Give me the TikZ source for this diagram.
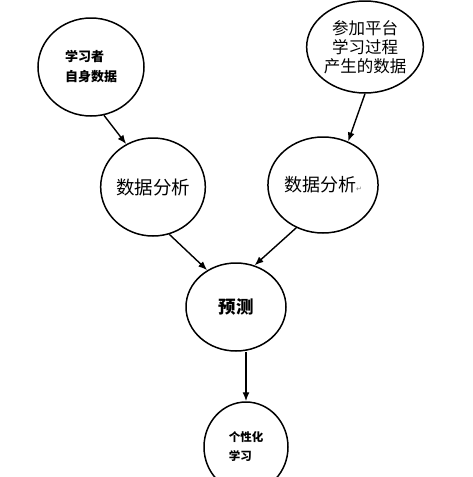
\documentclass[tikz,border=0pt]{standalone}
\usepackage{fontspec}
\newfontfamily\cjk{Noto Sans CJK SC}
\newfontfamily\symfont{DejaVu Sans}
\usetikzlibrary{shapes.geometric,arrows.meta}
\begin{document}
\begin{tikzpicture}[x=1pt,y=-1pt,
  bubble/.style={ellipse,draw,line width=1.5pt,inner sep=0pt},
  flow/.style={-{Latex[length=9pt,width=7pt]},line width=1.4pt}]
% Canvas
\useasboundingbox (0,0) rectangle (473,477);
\clip (0,0) rectangle (473,477);

% Data sources
\node[bubble,minimum width=106pt,minimum height=98pt,align=left,
  font=\cjk\bfseries\fontsize{13}{20}\selectfont] (learner) at (91,67) {学习者\\自身数据};
\node[bubble,minimum width=106pt,minimum height=92pt,align=center,
  font=\cjk\fontsize{16.5}{19}\selectfont] (platform) at (365,47) {参加平台\\学习过程\\产生的数据};

% Analysis
\node[bubble,minimum width=90pt,minimum height=98pt,
  font=\cjk\fontsize{18.5}{20}\selectfont] (analysisL) at (153,187) {数据分析};
\node[bubble,minimum width=88pt,minimum height=96pt,
  font=\cjk\fontsize{18}{20}\selectfont] (analysisR) at (323,185)
  {数据分析{\symfont\fontsize{7}{7}\selectfont\color{gray}↵}};

% Prediction and result
\node[bubble,minimum width=100pt,minimum height=88pt,
  font=\cjk\bfseries\fontsize{17.5}{20}\selectfont] (predict) at (236,307) {预测};
\node[bubble,minimum width=84pt,minimum height=90pt,align=left,
  font=\cjk\bfseries\fontsize{11.5}{19}\selectfont] (personal) at (246,447) {个性化\\学习};

% Arrows
\draw[flow] (learner.-75) -- (analysisL.122);
\draw[flow] (platform.-90) -- (analysisR.60);
\draw[flow] (analysisL.-71) -- (predict.128);
\draw[flow] (analysisR.-122) -- (predict.66);
\draw[flow] (predict.south -| personal.north) -- (personal.north);
\end{tikzpicture}
\end{document}
